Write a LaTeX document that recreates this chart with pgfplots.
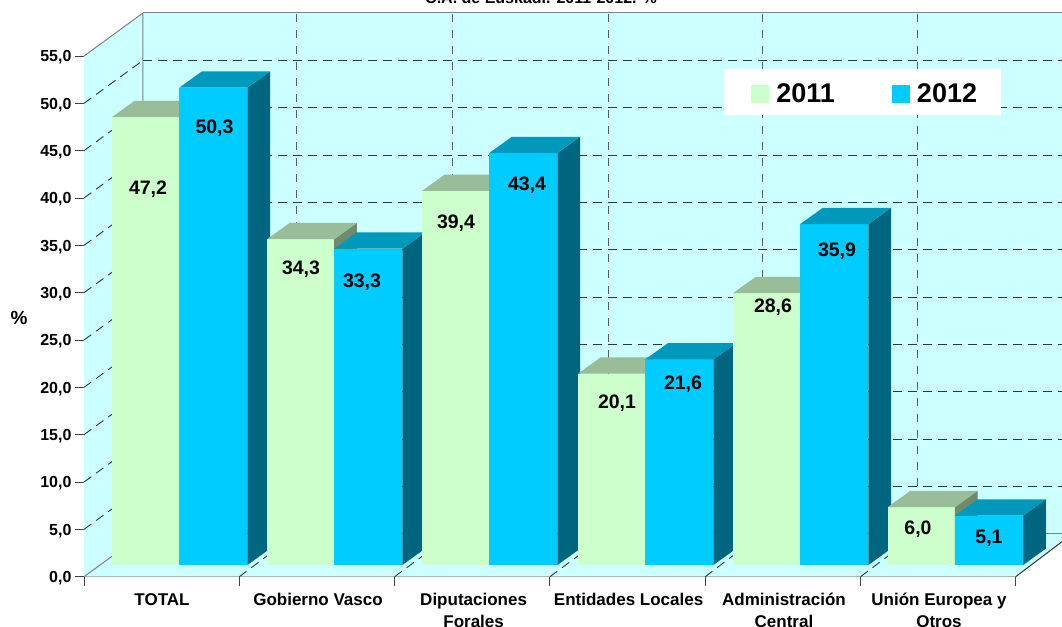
\documentclass[border=0pt]{standalone}
\usepackage{fontspec}
\setmainfont{Liberation Sans}
\usepackage{pgfplots}
\pgfplotsset{compat=1.18}
\definecolor{wall}{HTML}{CCFFFF}
\definecolor{fa}{HTML}{CCFFCC}
\definecolor{ta}{HTML}{99BC99}
\definecolor{sa}{HTML}{6E8B6E}
\definecolor{fb}{HTML}{00CCFF}
\definecolor{tb}{HTML}{0099BB}
\definecolor{sb}{HTML}{006680}
\definecolor{gridc}{HTML}{2A3A3A}
% one 3-D bar: left x, width, value, front, top, side
\newcommand\threedbar[6]{%
  \pgfmathsetmacro\xa{#1+#2}%
  \pgfmathsetmacro\xb{#1+#2+22.7}%
  \pgfmathsetmacro\xc{#1+22.7}%
  \pgfmathsetmacro\yt{#3+1.35}%
  \pgfmathsetmacro\yu{#3+1.35+1.72}%
  \addplot[forget plot,fill=#4,draw=none] coordinates {(#1,1.236) (\xa,1.236) (\xa,\yt) (#1,\yt)} -- cycle;
  \addplot[forget plot,fill=#6,draw=none] coordinates {(\xa,1.236) (\xb,2.956) (\xb,\yu) (\xa,\yt)} -- cycle;
  \addplot[forget plot,fill=#5,draw=none] coordinates {(#1,\yt) (\xa,\yt) (\xb,\yu) (\xc,\yu)} -- cycle;
}
\newcommand\wallgrid[1]{%
  \pgfmathsetmacro\yb{#1+4.542}%
  \addplot[forget plot,gridc,line width=0.9pt,dash pattern=on 9pt off 6pt] coordinates {(84,#1) (143,\yb)};
  \addplot[forget plot,gridc,line width=0.9pt,dash pattern=on 9pt off 6pt] coordinates {(143,\yb) (1062,\yb)};
}
\newcommand\floorgrid[2]{%
  \addplot[forget plot,gridc,line width=0.9pt,dash pattern=on 9pt off 6pt] coordinates {(#1,0) (#2,4.542)};
  \addplot[forget plot,gridc!80!white,line width=1pt,dash pattern=on 8pt off 8pt] coordinates {(#2,4.542) (#2,59.542)};
}
\begin{document}
\begin{tikzpicture}
\useasboundingbox (-84pt,-49.3pt) rectangle (978pt,576.7pt);
\begin{axis}[
  scale only axis,
  width=931.7pt, height=520.7pt,
  xmin=84, xmax=1015.7, ymin=0, ymax=55,
  clip=false,
  axis x line*=bottom, axis y line*=left,
  axis line style={-,line width=0.9pt,black!75},
  tick align=outside,
  major tick length=9pt,
  tick style={line width=0.9pt,black!75},
  xtick={84,239.3,394.6,549.9,705.2,860.5,1015.7},
  xticklabels={},
  extra x ticks={162,318,473.6,628.6,784,939},
  extra x tick labels={TOTAL,Gobierno Vasco,{Diputaciones\\Forales},Entidades Locales,{Administración\\Central},{Unión Europea y\\Otros}},
  extra x tick style={major tick length=0pt,
    tick label style={align=center,font=\bfseries\fontsize{17}{22}\selectfont,yshift=-13pt}},
  ytick={0,5,...,55},
  y tick label style={font=\bfseries\fontsize{16}{18}\selectfont,yshift=-1.5pt,
    /pgf/number format/.cd,fixed,fixed zerofill,precision=1,use comma,assume math mode=true},
  legend columns=2,
  legend cell align=left,
  legend image code/.code={\fill[#1] (0pt,-9pt) rectangle (18pt,9pt);},
  legend style={at={(axis description cs:0.8385,0.927)},anchor=center,draw=none,fill=none,
    font=\bfseries\fontsize{27}{29}\selectfont,
    inner xsep=0pt,inner ysep=0pt,
    /tikz/every odd column/.append style={column sep=5pt},
    /tikz/every even column/.append style={column sep=55pt}},
]
\addlegendimage{fill=fa,draw=none}\addlegendentry{2011}
\addlegendimage{fill=fb,draw=none}\addlegendentry{2012}
% walls and floor
\addplot[forget plot,fill=wall,draw=none] coordinates {(84,0) (143,4.542) (143,59.542) (84,55)} -- cycle;
\addplot[forget plot,fill=wall,draw=none] coordinates {(143,4.542) (1062,4.542) (1062,59.542) (143,59.542)} -- cycle;
\addplot[forget plot,fill=wall,draw=none] coordinates {(84,0) (1015.7,0) (1062,3.7) (1062,4.542) (143,4.542)} -- cycle;
% grid
\wallgrid{5}\wallgrid{10}\wallgrid{15}\wallgrid{20}\wallgrid{25}
\wallgrid{30}\wallgrid{35}\wallgrid{40}\wallgrid{45}\wallgrid{50}
\floorgrid{239.3}{296.7}\floorgrid{394.6}{452.7}\floorgrid{549.9}{608}
\floorgrid{705.2}{762}\floorgrid{860.5}{917.7}
% wall edges
\addplot[forget plot,gray,line width=1pt] coordinates {(84,0) (143,4.542) (143,59.542) (84,55)};
\addplot[forget plot,gray,line width=1pt] coordinates {(143,59.542) (1062,59.542)};
\addplot[forget plot,gray,line width=1pt] coordinates {(143,4.542) (1062,4.542)};
\addplot[forget plot,black!80,line width=1pt] coordinates {(1015.7,0) (1062,3.7)};
% legend panel
\addplot[forget plot,fill=white,draw=none] coordinates {(723.7,53.63) (1001,53.63) (1001,48.77) (723.7,48.77)} -- cycle;
% bars
\threedbar{112}{67.2}{47.2}{fa}{ta}{sa}
\threedbar{179.2}{68.2}{50.3}{fb}{tb}{sb}
\threedbar{267}{67.2}{34.3}{fa}{ta}{sa}
\threedbar{334.2}{68.2}{33.3}{fb}{tb}{sb}
\threedbar{422}{67.2}{39.4}{fa}{ta}{sa}
\threedbar{489.2}{68.2}{43.4}{fb}{tb}{sb}
\threedbar{578}{67.2}{20.1}{fa}{ta}{sa}
\threedbar{645.2}{68.2}{21.6}{fb}{tb}{sb}
\threedbar{733}{67.2}{28.6}{fa}{ta}{sa}
\threedbar{800.2}{68.2}{35.9}{fb}{tb}{sb}
\threedbar{887.7}{67.2}{6.0}{fa}{ta}{sa}
\threedbar{954.9}{68.2}{5.1}{fb}{tb}{sb}
% value labels
\addplot[forget plot,only marks,mark=none,point meta=explicit symbolic,nodes near coords,
  every node near coord/.append style={anchor=center,inner sep=0pt,yshift=-1.5pt,font=\bfseries\fontsize{19.5}{22}\selectfont}]
  table[x=x,y=y,meta=label] {
x y label
148 41.06 47,2
214.5 47.53 50,3
301 32.61 34,3
362 31.23 33,3
456 37.47 39,4
527 41.47 43,4
617 18.45 20,1
683 20.46 21,6
773 28.59 28,6
837 34.51 35,9
918 5.14 6,0
989 4.19 5,1
};
\node[anchor=base,font=\bfseries\fontsize{16}{18}\selectfont] at (axis cs:541,60.5) {C.A. de Euskadi. 2011-2012. \%};
\node[font=\bfseries\fontsize{19}{22}\selectfont] at (axis cs:19,27.3) {\%};
\end{axis}
\end{tikzpicture}
\end{document}
